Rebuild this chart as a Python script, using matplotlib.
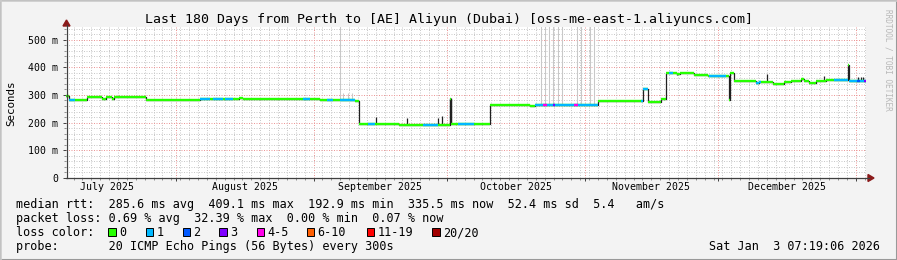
import datetime as dt
import numpy as np
import matplotlib
matplotlib.use("Agg")
import matplotlib.pyplot as plt
from matplotlib.patches import Rectangle, Polygon
from matplotlib.lines import Line2D

W, H = 897, 260
START = dt.datetime(2025, 7, 7, 7, 19, 6)
SPAN_DAYS = 180.0
Y_MAX = 545.5

# ---- median rtt (ms) as step segments: day offset from START -> value
med_day = [0.0, 0.7, 4.7, 8.1, 9.0, 10.4, 10.8, 18.0, 21.2, 21.8, 30.2, 39.0, 39.9,
           55.0, 57.2, 59.0, 60.1, 65.1, 65.9, 75.0, 86.3, 86.6, 95.5, 104.5,
           105.6, 119.6, 129.9, 130.9, 133.8, 135.1, 137.5, 138.2, 141.2, 144.4,
           149.1, 149.4, 150.2, 155.2, 155.9, 159.0, 161.5, 163.1, 165.3, 166.0,
           167.1, 168.7, 170.9, 175.9, 176.1]
med_ms = [296, 280, 291, 286, 291, 287, 291, 280, 283, 280, 284, 290, 285,
          284, 282, 280, 283, 278, 194, 193, 287, 196, 264, 260,
          262, 277, 321, 276, 284, 378, 374, 378, 372, 368,
          280, 380, 350, 342, 347, 340, 346, 350, 356, 350,
          342, 350, 353, 409, 350]

# ---- loss classes of the median line (index into loss_colors)
loss_start = [0.7, 30.2, 33.1, 35.8, 53.4, 58.8, 61.7, 68.0, 80.4, 88.1,
              105.6, 107.4, 109.5, 114.2, 129.3, 135.6, 144.6, 155.2, 172.7,
              176.1, 178.0, 179.5]
loss_end = [2.0, 32.4, 35.4, 37.6, 55.0, 60.1, 65.1, 69.6, 83.6, 91.7,
            119.6, 108.3, 110.1, 115.1, 130.9, 136.5, 148.4, 156.3, 175.9,
            180.0, 178.6, 180.0]
loss_level = [1, 1, 1, 1, 1, 1, 1, 1, 1, 1,
              1, 4, 3, 4, 1, 1, 1, 1, 1,
              1, 2, 3]

# ---- smoke: dark spread bars (ms)
smoke_day = [69.7, 76.7, 83.7, 84.5, 86.3, 86.6, 157.7, 170.5, 178.1, 178.8, 179.3, 137.5]
smoke_lo = [194, 194, 194, 194, 194, 194, 346, 350, 350, 350, 350, 372]
smoke_hi = [221, 218, 215, 225, 288, 288, 376, 368, 364, 364, 364, 378]

# ---- faint smoke: light grey high outliers (ms)
faint_day = [61.7, 62.4, 63.5, 64.4, 106.8, 107.7, 108.6, 109.5, 110.6,
             111.5, 114.9, 115.8, 117.8, 118.7]
faint_lo = [283, 283, 283, 283, 262, 262, 262, 262, 262,
            262, 262, 262, 262, 262]
faint_hi = [600, 306, 306, 306, 600, 600, 600, 600, 600,
            600, 600, 600, 600, 600]

loss_labels = ["0", "1", "2", "3", "4-5", "6-10", "11-19", "20/20"]
loss_colors = ["#26ff00", "#00b8ff", "#0059ff", "#7e00ff",
               "#ff00ea", "#ff5e00", "#ff0000", "#a10000"]

y_ticks = [0, 100, 200, 300, 400, 500]
y_tick_labels = ["0", "100 m", "200 m", "300 m", "400 m", "500 m"]
month_names = ["July 2025", "August 2025", "September 2025",
               "October 2025", "November 2025", "December 2025"]
month_starts = [dt.datetime(2025, 7, 1), dt.datetime(2025, 8, 1), dt.datetime(2025, 9, 1),
                dt.datetime(2025, 10, 1), dt.datetime(2025, 11, 1), dt.datetime(2025, 12, 1),
                dt.datetime(2026, 1, 1)]

title = "Last 180 Days from Perth to [AE] Aliyun (Dubai) [oss-me-east-1.aliyuncs.com]"
line_rtt = "median rtt:  285.6 ms avg  409.1 ms max  192.9 ms min  335.5 ms now  52.4 ms sd  5.4   am/s"
line_loss = "packet loss: 0.69 % avg  32.39 % max  0.00 % min  0.07 % now"
line_probe = "probe:       20 ICMP Echo Pings (56 Bytes) every 300s"
stamp = "Sat Jan  3 07:19:06 2026"
watermark = "RRDTOOL / TOBI OETIKER"

MONO = "DejaVu Sans Mono"


def days(d):
    return (d - START).total_seconds() / 86400.0


def fx(px):
    return px / W


def fy(py):
    return 1 - py / H


fig = plt.figure(figsize=(W / 100, H / 100), dpi=100, facecolor="#f3f3f3")

# 3D-ish border
fig.patches.append(Rectangle((0, 0), 1, 1, transform=fig.transFigure, fill=False,
                             edgecolor="#999999", lw=1.5))
fig.add_artist(Line2D([0, 1], [fy(0.5), fy(0.5)], color="#cbcbcb", lw=1.2))
fig.add_artist(Line2D([fx(0.5), fx(0.5)], [0, 1], color="#cbcbcb", lw=1.2))

ax = fig.add_axes([fx(66), fy(178), 800 / W, 151 / H])
ax.set_facecolor("white")
ax.set_xlim(0, SPAN_DAYS)
ax.set_ylim(0, Y_MAX)
for s in ax.spines.values():
    s.set_visible(False)

# grid
dash = (0, (1.0, 1.5))
minor_col = "#cacaca"
major_col = "#ec9898"
month_pos = [days(m) for m in month_starts]
month_major = [p for p in month_pos if 0 < p < SPAN_DAYS]
first_minor = days(dt.datetime(2025, 7, 9))
x_minor = np.arange(first_minor, SPAN_DAYS, 2.0)
ax.set_xticks(month_major)
ax.set_xticks(x_minor, minor=True)
ax.set_xticklabels([])
ax.set_yticks(y_ticks)
ax.set_yticks(np.arange(0, Y_MAX, 20), minor=True)
ax.set_yticklabels(y_tick_labels, fontfamily=MONO, fontsize=7.1)
ax.grid(which="minor", color=minor_col, lw=0.72, linestyle=dash)
ax.grid(which="major", color=major_col, lw=0.72, linestyle=dash)
ax.tick_params(which="major", length=2.5, width=0.7, color="#404040", pad=3)
ax.tick_params(which="minor", length=1.5, width=0.7, color="#909090")
ax.set_axisbelow(True)

# faint smoke
ax.vlines(faint_day, faint_lo, faint_hi, color="#c8c8c8", lw=0.75, zorder=2)
# step outline (transitions look like dark smoke)
xs = med_day + [SPAN_DAYS]
ys = med_ms + [med_ms[-1]]
ax.step(xs, ys, where="post", color="#202020", lw=0.9, zorder=3)
ax.vlines(smoke_day, smoke_lo, smoke_hi, color="#202020", lw=0.9, zorder=3)
# median segments, green
seg_end = med_day[1:] + [SPAN_DAYS]
ax.hlines(med_ms, med_day, seg_end, color=loss_colors[0], lw=1.7, zorder=4)

# loss-colored parts
md = np.array(med_day)
for s, e, lv in zip(loss_start, loss_end, loss_level):
    i0 = np.searchsorted(md, s, side="right") - 1
    i1 = np.searchsorted(md, e, side="left")
    for i in range(i0, i1):
        a = max(s, med_day[i])
        b = min(e, seg_end[i])
        if b > a:
            ax.hlines(med_ms[i], a, b, color=loss_colors[lv], lw=1.7, zorder=5)

# month labels (mid-month)
for i, name in enumerate(month_names):
    mid = 0.5 * (month_pos[i] + month_pos[i + 1])
    ax.text(mid, -0.06, name, transform=ax.get_xaxis_transform(), ha="center",
            va="center", fontfamily=MONO, fontsize=7.1, clip_on=False)

# axes lines with arrows
ax_col = "#404040"
fig.add_artist(Line2D([fx(66), fx(869)], [fy(178), fy(178)], color=ax_col, lw=0.9))
fig.add_artist(Line2D([fx(66.5), fx(66.5)], [fy(178), fy(25)], color=ax_col, lw=0.9))
fig.patches.append(Polygon([[fx(868), fy(174.5)], [fx(868), fy(181.5)], [fx(874), fy(178)]],
                           closed=True, transform=fig.transFigure, color="#8b1a1a"))
fig.patches.append(Polygon([[fx(63), fy(26)], [fx(70), fy(26)], [fx(66.5), fy(20)]],
                           closed=True, transform=fig.transFigure, color="#8b1a1a"))

# texts
fig.text(fx(448.5), fy(19), title, ha="center", va="center", fontfamily=MONO, fontsize=9.55)
fig.text(fx(11), fy(103), "Seconds", rotation=90, ha="center", va="center",
         fontfamily=MONO, fontsize=7.8)
fig.text(fx(888), fy(60), watermark, rotation=270, ha="center", va="center",
         fontfamily=MONO, fontsize=5.6, color="#b8b8b8")

fig.text(fx(16), fy(204.5), line_rtt, ha="left", va="center", fontfamily=MONO, fontsize=8.5)
fig.text(fx(16), fy(218.5), line_loss, ha="left", va="center", fontfamily=MONO, fontsize=8.5)
fig.text(fx(16), fy(232.5), "loss color:", ha="left", va="center", fontfamily=MONO, fontsize=8.5)
fig.text(fx(16), fy(246.5), line_probe, ha="left", va="center", fontfamily=MONO, fontsize=8.5)
fig.text(fx(880), fy(246.5), stamp, ha="right", va="center", fontfamily=MONO, fontsize=8.5)

box_x = [108.3, 145.7, 182.7, 219.3, 256.7, 306.7, 366.7, 432.3]
for bx, lab, col in zip(box_x, loss_labels, loss_colors):
    fig.patches.append(Rectangle((fx(bx), fy(235.7)), 7.3 / W, 7.3 / H,
                                 transform=fig.transFigure, facecolor=col,
                                 edgecolor="black", lw=0.7))
    fig.text(fx(bx + 10.5), fy(232.5), lab, ha="left", va="center",
             fontfamily=MONO, fontsize=8.5)

fig.savefig("out.png", dpi=100, facecolor=fig.get_facecolor())
